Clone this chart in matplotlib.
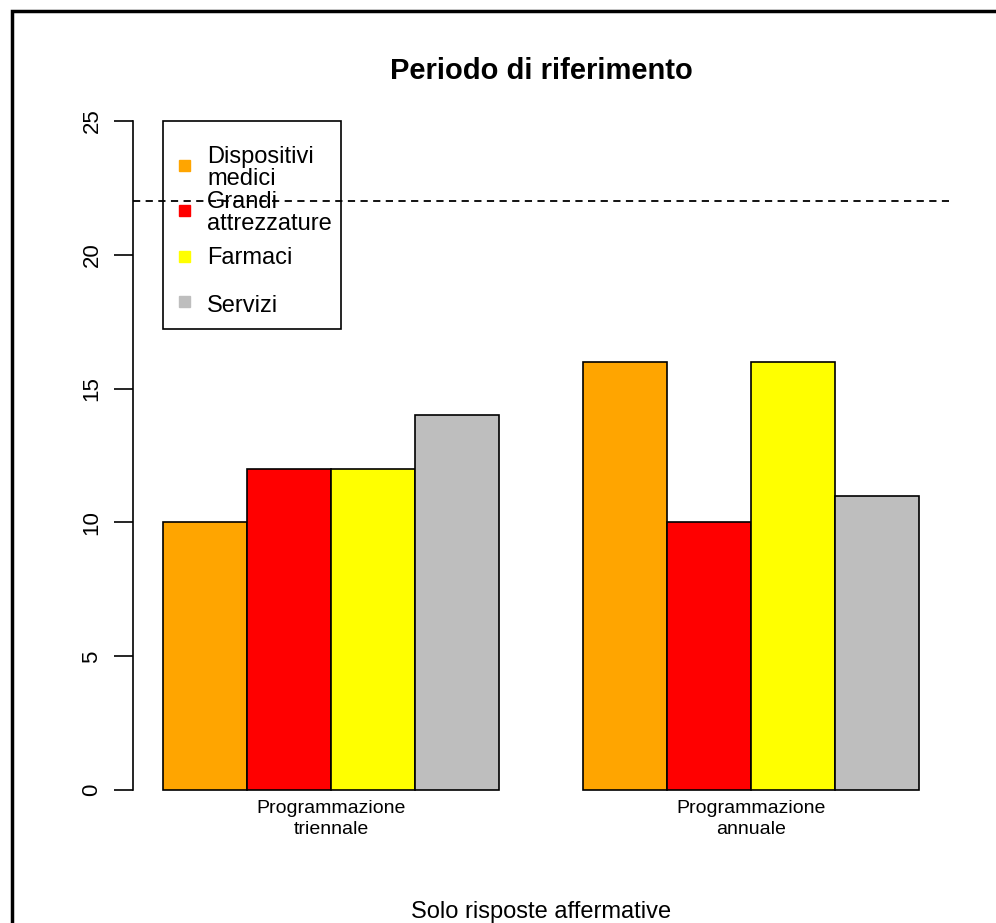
import numpy as np
import matplotlib.pyplot as plt
from matplotlib.patches import Rectangle

# data
groups = ['Programmazione\ntriennale', 'Programmazione\nannuale']
series = ['Dispositivi\nmedici', 'Grandi\nattrezzature', 'Farmaci', 'Servizi']
colors = ['#FFA500', '#FF0000', '#FFFF00', '#BEBEBE']
values = [[10, 16],   # Dispositivi medici
          [12, 10],   # Grandi attrezzature
          [12, 16],   # Farmaci
          [14, 11]]   # Servizi
ref_line = 22

plt.rcParams['font.family'] = ['Liberation Sans', 'DejaVu Sans']

fig = plt.figure(figsize=(9.96, 9.23), dpi=100)
ax = fig.add_axes([0.1335, 0.1148, 0.8195, 0.7834])

# R barplot(beside=TRUE) layout: bar width 1, one bar gap between groups
n = len(series)
starts = np.arange(len(groups)) * (n + 1) + 1
for i in range(n):
    ax.bar(starts + i, values[i], width=1.0, align='edge', color=colors[i],
           edgecolor='black', linewidth=1.2)

ax.axhline(ref_line, color='black', linestyle=(0, (4, 3)), linewidth=1.3)

ax.set_xlim(0.64, 10.36)
ax.set_ylim(-1, 26)
ax.set_yticks(np.arange(0, 26, 5))
ax.tick_params(axis='y', length=14, width=1.2, pad=8, labelsize=16)
for lab in ax.get_yticklabels():
    lab.set_rotation(90)
    lab.set_va('center')
ax.set_xticks(starts + n / 2)
ax.set_xticklabels(groups, fontsize=14, linespacing=1.25)
ax.tick_params(axis='x', length=0, pad=-12)

for s in ['top', 'right', 'bottom']:
    ax.spines[s].set_visible(False)
ax.spines['left'].set_bounds(0, 25)
ax.spines['left'].set_linewidth(1.2)

ax.set_title('Periodo di riferimento', fontsize=21, fontweight='bold', pad=11)
fig.text(0.5435, 1 - 912 / 923, 'Solo risposte affermative', ha='center', va='center',
         fontsize=17)

# legend drawn R-style (entries overlap like the original)
W, H = 996.0, 923.0
fig.patches.append(Rectangle((163 / W, 1 - 329 / H), 178 / W, 208 / H,
                             transform=fig.transFigure, fill=False,
                             edgecolor='black', linewidth=1.2, zorder=5))
key_y = [166, 211, 257, 302]
text_y = [168, 213, 258, 306]
for i in range(n):
    fig.patches.append(Rectangle((179 / W, 1 - (key_y[i] + 5) / H), 11 / W, 11 / H,
                                 transform=fig.transFigure, color=colors[i], zorder=6))
    fig.text(207 / W, 1 - text_y[i] / H, series[i], ha='left', va='center',
             fontsize=17, linespacing=1.0, zorder=6)

# outer frame (cropped, only top and left edges visible)
fig.patches.append(Rectangle((12 / W, -0.1), 1.2, (1 - 11 / H) + 0.1,
                             transform=fig.transFigure, fill=False,
                             edgecolor='black', linewidth=2.5))

fig.savefig('out.png', dpi=100)
